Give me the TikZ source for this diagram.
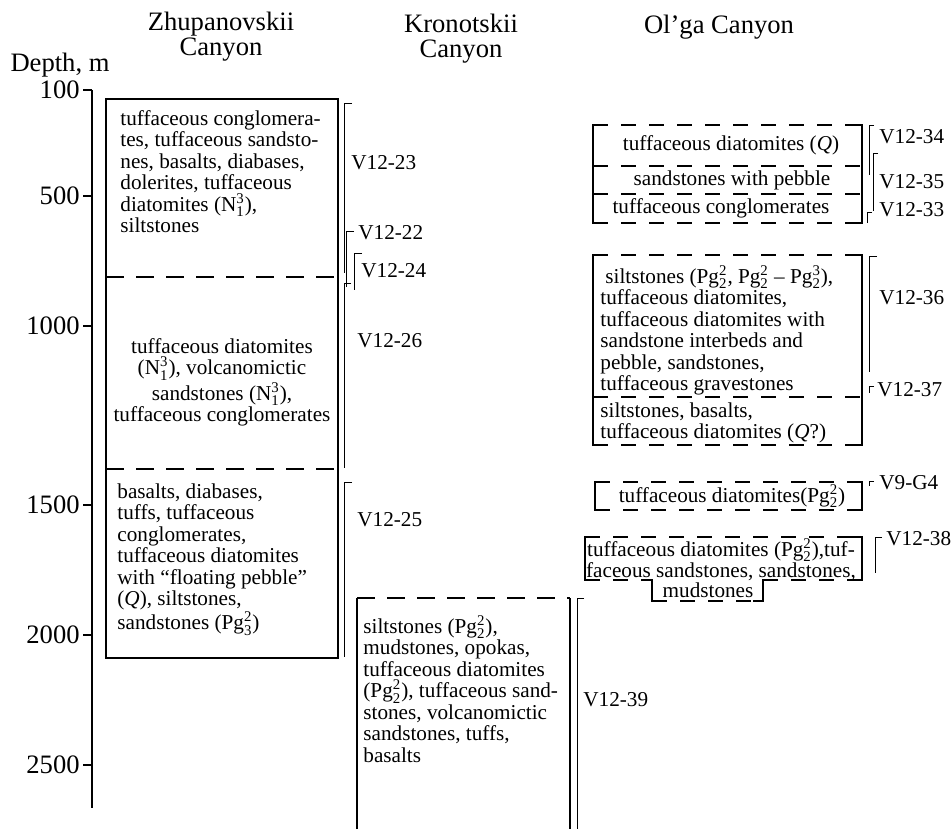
\documentclass[tikz,border=0pt]{standalone}
\usepackage{fontspec}
\setmainfont{Liberation Serif}
\usepackage{amsmath}
\usetikzlibrary{positioning}

\newcommand{\ixs}[2]{$^{\text{#1}}_{\text{#2}}$}

\tikzset{
  box/.style={line width=1.2pt},
  zlayer/.style={line width=1.2pt, dash pattern=on 9pt off 6pt},
  olayer/.style={line width=1.2pt, dash pattern=on 7.5pt off 6.5pt},
  brk/.style={line width=0.5pt},
  rock/.style={font=\fontsize{10.6}{10.75}\selectfont, inner sep=0pt, align=left},
  core/.style={font=\fontsize{10.6}{12}\selectfont, inner sep=0pt, anchor=west},
  head/.style={font=\fontsize{13.3}{12.5}\selectfont, align=center, inner sep=0pt},
  depth/.style={font=\fontsize{13.3}{13}\selectfont, anchor=east, inner sep=0pt},
}

\begin{document}
\begin{tikzpicture}[x=0.5pt, y=-0.5pt]
  \useasboundingbox (0,0) rectangle (951,829);

  % headers
  \node[head] (zhead) at (221,37) {Zhupanovskii\\Canyon};
  \node[head] (khead) at (461,39) {Kronotskii\\Canyon};
  \node[head] (ohead) at (719,27) {Ol’ga Canyon};
  \node[head] (dhead) at (60,65) {Depth, m};

  % depth axis
  \draw[line width=0.6pt] (92,90) -- (92,808);
  \foreach \d/\y in {100/90, 500/196, 1000/326, 1500/505, 2000/635, 2500/765} {
    \draw[line width=0.6pt] (83,\y) -- (92,\y);
    \node[depth] (d\d) at (80,\y) {\d};
  }

  % Zhupanovskii Canyon
  \draw[box] (106,99) rectangle (338,658);
  \draw[zlayer] (106,277) -- (338,277);
  \draw[zlayer] (106,469) -- (338,469);
  \node[rock, anchor=north west] (zone) at (120,110) {tuffaceous conglomera-\\tes, tuffaceous sandsto-\\nes, basalts, diabases,\\dolerites, tuffaceous\\diatomites (N\ixs{3}{1}),\\siltstones};
  \node[rock, align=center, anchor=north] (ztwo) at (222,338) {tuffaceous diatomites\\(N\ixs{3}{1}), volcanomictic\\sandstones (N\ixs{3}{1}),\\tuffaceous conglomerates};
  \node[rock, anchor=north west] (zthree) at (117,483) {basalts, diabases,\\tuffs, tuffaceous\\conglomerates,\\tuffaceous diatomites\\with “floating pebble”\\(\textit{Q}), siltstones,\\sandstones (Pg\ixs{2}{3})};

  \draw[brk] (352,103) -- (344,103) -- (344,273);
  \draw[brk] (354,231) -- (346,231) -- (346,287);
  \draw[brk] (362,253) -- (354,253) -- (354,290);
  \draw[brk] (351,283) -- (344,283) -- (344,468);
  \draw[brk] (352,482) -- (344,482) -- (344,657);
  \node[core] (v23) at (351,163) {V12-23};
  \node[core] (v22) at (358,233) {V12-22};
  \node[core] (v24) at (361,271) {V12-24};
  \node[core] (v26) at (357,341) {V12-26};
  \node[core] (v25) at (357,520) {V12-25};

  % Kronotskii Canyon
  \draw[box] (357,829) -- (357,598);
  \draw[box] (570,598) -- (570,829);
  \draw[zlayer] (357,598) -- (570,598);
  \node[rock, anchor=north west] (kone) at (363,615) {siltstones (Pg\ixs{2}{2}),\\mudstones, opokas,\\tuffaceous diatomites\\(Pg\ixs{2}{2}), tuffaceous sand-\\stones, volcanomictic\\sandstones, tuffs,\\basalts};
  \draw[brk] (584,598) -- (577,598) -- (577,829);
  \node[core] (v39) at (583,700) {V12-39};

  % Ol'ga Canyon
  \draw[box] (603,125) -- (593,125) -- (593,223) -- (603,223);
  \draw[box] (852,125) -- (862,125) -- (862,223) -- (852,223);
  \foreach \y in {125,166,194,223}
    \draw[olayer] (593,\y) -- (862,\y);
  \node[rock, anchor=base] (oone) at (731,150) {tuffaceous diatomites (\textit{Q})};
  \node[rock, anchor=base] (otwo) at (732,185) {sandstones with pebble};
  \node[rock, anchor=base] (othree) at (721,213) {tuffaceous conglomerates};

  \draw[box] (603,255) -- (593,255) -- (593,445) -- (603,445);
  \draw[box] (852,255) -- (862,255) -- (862,445) -- (852,445);
  \foreach \y in {255,397,445}
    \draw[olayer] (593,\y) -- (862,\y);
  \node[rock, anchor=north west] (ofour) at (600,265) {\hspace*{2.5pt}siltstones (Pg\ixs{2}{2}, Pg\ixs{2}{2} – Pg\ixs{3}{2}),\\tuffaceous diatomites,\\tuffaceous diatomites with\\sandstone interbeds and\\pebble, sandstones,\\tuffaceous gravestones};
  \node[rock, anchor=north west] (ofive) at (600,402) {siltstones, basalts,\\tuffaceous diatomites (\textit{Q}?)};

  \draw[box] (605,482) -- (595,482) -- (595,510) -- (605,510);
  \draw[box] (852,482) -- (862,482) -- (862,510) -- (852,510);
  \foreach \y in {482,510}
    \draw[olayer] (595,\y) -- (862,\y);
  \node[rock, anchor=base] (osix) at (732,502) {tuffaceous diatomites(Pg\ixs{2}{2})};

  \draw[box] (595,537) -- (585,537) -- (585,580) -- (595,580);
  \draw[box] (852,537) -- (862,537) -- (862,580) -- (852,580);
  \draw[olayer] (585,537) -- (862,537);
  \draw[olayer] (585,580) -- (652,580);
  \draw[box] (642,580) -- (652,580) -- (652,601) -- (662,601);
  \draw[olayer] (652,601) -- (763,601);
  \draw[box] (753,601) -- (763,601) -- (763,580) -- (773,580);
  \draw[olayer] (763,580) -- (862,580);
  \node[rock, align=center, anchor=north] (oseven) at (721,538) {tuffaceous diatomites (Pg\ixs{2}{2}),tuf-\\faceous sandstones, sandstones,};
  \node[rock, anchor=base] (oeight) at (708,597) {mudstones};

  \draw[brk] (874,125) -- (869,125) -- (869,175);
  \draw[brk] (878,153) -- (873,153) -- (873,211);
  \draw[brk] (872,212) -- (867,212) -- (867,223);
  \draw[brk] (877,256) -- (869,256) -- (869,372);
  \draw[brk] (874,386) -- (869,386) -- (869,393);
  \draw[brk] (874,481) -- (869,481) -- (869,486);
  \draw[brk] (882,537) -- (875,537) -- (875,573);
  \node[core] (v34) at (879,137) {V12-34};
  \node[core] (v35) at (879,182) {V12-35};
  \node[core] (v33) at (879,210) {V12-33};
  \node[core] (v36) at (879,298) {V12-36};
  \node[core] (v37) at (877,390) {V12-37};
  \node[core] (vg4) at (879,483) {V9-G4};
  \node[core] (v38) at (886,539) {V12-38};
\end{tikzpicture}
\end{document}
